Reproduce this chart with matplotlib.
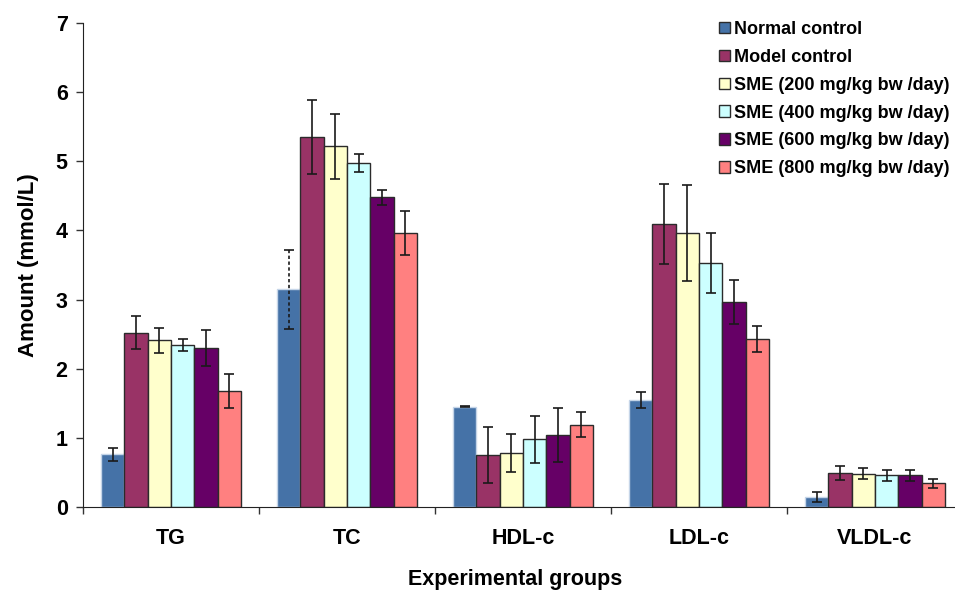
import numpy as np
import matplotlib
matplotlib.use('Agg')
import matplotlib.pyplot as plt

plt.rcParams['font.family'] = ['Liberation Sans', 'DejaVu Sans']
plt.rcParams['font.weight'] = 'bold'

# Lipid profile per experimental group (mean and error)
categories = ['TG', 'TC', 'HDL-c', 'LDL-c', 'VLDL-c']
series_names = ['Normal control', 'Model control',
                'SME (200 mg/kg bw /day)', 'SME (400 mg/kg bw /day)',
                'SME (600 mg/kg bw /day)', 'SME (800 mg/kg bw /day)']

normal_control = [0.76, 3.15, 1.45, 1.55, 0.14]
model_control = [2.52, 5.35, 0.75, 4.09, 0.49]
sme_200 = [2.41, 5.22, 0.78, 3.96, 0.48]
sme_400 = [2.34, 4.97, 0.98, 3.53, 0.46]
sme_600 = [2.30, 4.48, 1.04, 2.96, 0.46]
sme_800 = [1.68, 3.96, 1.19, 2.43, 0.34]

normal_err = [0.09, 0.57, 0.01, 0.12, 0.07]
model_err = [0.24, 0.53, 0.41, 0.58, 0.10]
sme_200_err = [0.18, 0.47, 0.27, 0.69, 0.08]
sme_400_err = [0.09, 0.13, 0.34, 0.43, 0.08]
sme_600_err = [0.26, 0.11, 0.39, 0.32, 0.08]
sme_800_err = [0.25, 0.32, 0.18, 0.19, 0.07]

values = [normal_control, model_control, sme_200, sme_400, sme_600, sme_800]
errors = [normal_err, model_err, sme_200_err, sme_400_err, sme_600_err, sme_800_err]
colors = ['#4572A7', '#993366', '#FFFFCC', '#CCFFFF', '#660066', '#FF8080']

fig = plt.figure(figsize=(9.55, 5.94), dpi=100)
ax = fig.add_axes([83 / 955, 87 / 594, 880 / 955, 484 / 594])

n = len(values)
width = 0.1325
centers = np.arange(len(categories)) + 0.5
for i, (vals, errs, col) in enumerate(zip(values, errors, colors)):
    x = centers + (i - (n - 1) / 2) * width
    edge = '#C5D5E8' if i == 0 else '#2B2B2B'
    ax.bar(x, vals, width, color=col, edgecolor=edge, linewidth=1.0,
           label=series_names[i], zorder=2)
    eb = ax.errorbar(x, vals, yerr=errs, fmt='none', ecolor='#1A1A1A',
                     elinewidth=1.2, capsize=3.4, capthick=1.2, zorder=3)
    if i == 0:
        # dashed whisker on the TC normal-control bar
        styles = ['solid'] * len(categories)
        styles[1] = (0, (2, 1.5))
        eb.lines[2][0].set_linestyles(styles)

ax.set_xlim(0, len(categories))
ax.set_ylim(0, 7)
ax.set_yticks(range(0, 8))
ax.set_xticks(np.arange(len(categories) + 1))
ax.set_xticklabels([])
ax.set_xticks(centers, minor=True)
ax.set_xticklabels(categories, minor=True)
ax.tick_params(axis='x', which='major', length=5, width=1, color='#333333')
ax.tick_params(axis='x', which='minor', length=0, pad=15, labelsize=15.5)
ax.tick_params(axis='y', length=5, width=1, color='#333333', labelsize=15.5, pad=6)
for lab in ax.get_xticklabels(minor=True) + ax.get_yticklabels():
    lab.set_fontweight('bold')

ax.spines['top'].set_visible(False)
ax.spines['right'].set_visible(False)
ax.spines['left'].set_color('#222222')
ax.spines['bottom'].set_color('#222222')

ax.set_ylabel('Amount (mmol/L)', fontsize=16, fontweight='bold', labelpad=12)
fig.text(515 / 955, 14 / 594, 'Experimental groups', ha='center', va='center',
         fontsize=15.5, fontweight='bold')

leg = ax.legend(loc='upper left', bbox_to_anchor=(719 / 955, 1 - 21 / 594),
                bbox_transform=fig.transFigure, frameon=False,
                prop={'size': 13, 'weight': 'bold'},
                handlelength=0.6, handleheight=0.6, handletextpad=0.25,
                labelspacing=0.6, borderpad=0, borderaxespad=0)
for h in leg.legend_handles:
    h.set_edgecolor('#2B2B2B')
    h.set_linewidth(1.0)

fig.savefig('out.png', dpi=100)
